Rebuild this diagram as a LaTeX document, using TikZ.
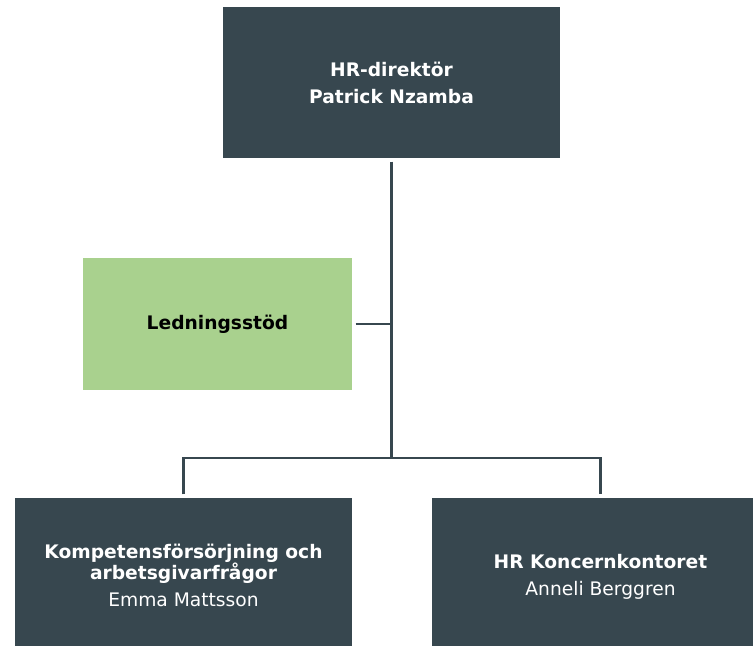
\documentclass[tikz,border=0pt]{standalone}
\usepackage{fontspec}
\setmainfont{DejaVu Sans}
\definecolor{slate}{HTML}{37474F}
\definecolor{leafgreen}{HTML}{A9D18E}
\tikzset{
  orgbox/.style={rectangle, fill=slate, text=white, minimum width=252.75pt, minimum height=113.25pt, inner sep=0pt, align=center, font=\fontsize{14}{20.25}\selectfont},
  orgtext/.style={text=white, inner sep=0pt, align=center, font=\fontsize{14}{20.25}\selectfont},
  greenbox/.style={rectangle, fill=leafgreen, text=black, minimum width=201.75pt, minimum height=99pt, inner sep=0pt, align=center, font=\fontsize{14}{20}\selectfont\bfseries},
  conn/.style={draw=slate, line width=2.2pt, shorten <=2.5pt, shorten >=2.5pt}
}
\begin{document}
\begin{tikzpicture}[x=0.75pt,y=-0.75pt]
\useasboundingbox (0,0) rectangle (753,646);
\clip (0,0) rectangle (753,646);
\node[orgbox] (top) at (391.5,82.5) {\textbf{HR-direktör}\\\textbf{Patrick Nzamba}};
\node[greenbox] (stod) at (217.5,324) {Ledningsstöd};
\node[orgbox, minimum height=111pt] (komp) at (183.5,572) {};
\node[orgtext, font=\fontsize{14}{15.75}\selectfont, yshift=-2.5pt] (kompt) at (komp.center) {\textbf{Kompetensförsörjning och}\\\textbf{arbetsgivarfrågor}\\[5pt]Emma Mattsson};
\node[orgbox, minimum height=111pt] (hrk) at (600.5,572) {};
\node[orgtext, yshift=-4pt] (hrkt) at (hrk.center) {\textbf{HR Koncernkontoret}\\Anneli Berggren};
\coordinate (j) at (391.5,458);
\draw[conn, shorten >=0pt] (top.south) -- (j);
\draw[conn] (komp.north) |- (j) -| (hrk.north);
\draw[conn, shorten >=0pt] (stod.east) -- (stod.east -| top.south);
\end{tikzpicture}
\end{document}
